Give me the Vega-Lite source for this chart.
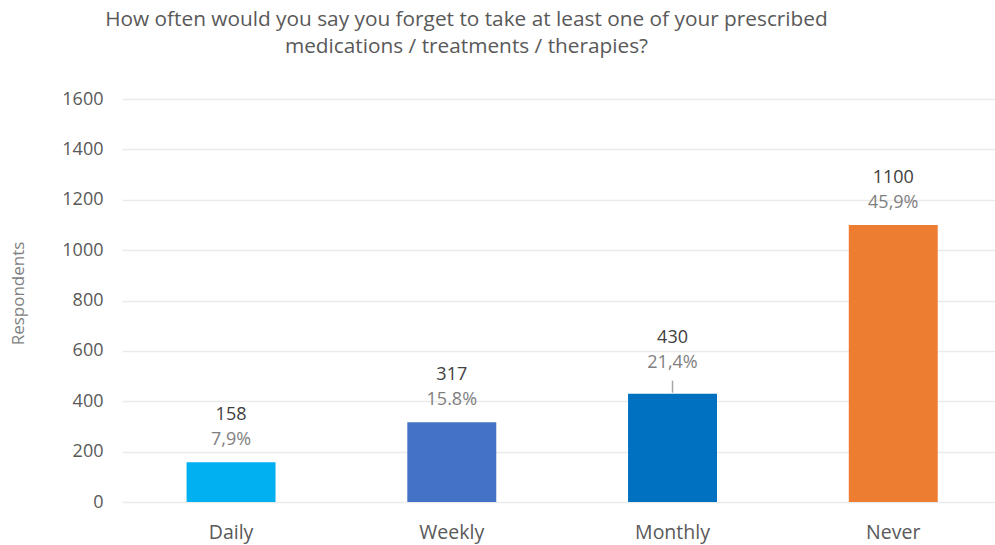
{
  "$schema": "https://vega.github.io/schema/vega-lite/v6.json",
  "autosize": "none",
  "width": 873,
  "height": 403,
  "padding": {"left": 122, "top": 99, "right": 0, "bottom": 43},
  "background": "white",
  "config": {
    "view": {"stroke": null},
    "font": "Open Sans"
  },
  "title": {
    "text": ["How often would you say you forget to take at least one of your prescribed", "medications / treatments / therapies?"],
    "anchor": "middle",
    "dx": -92,
    "offset": 32,
    "fontSize": 20.8,
    "fontWeight": "normal",
    "color": "#595959",
    "lineHeight": 27,
    "font": "Open Sans"
  },
  "data": {
    "values": [
      {"cat": "Daily", "count": 158, "pct": "7,9%"},
      {"cat": "Weekly", "count": 317, "pct": "15.8%"},
      {"cat": "Monthly", "count": 430, "pct": "21,4%"},
      {"cat": "Never", "count": 1100, "pct": "45,9%"}
    ]
  },
  "encoding": {
    "x": {
      "field": "cat",
      "type": "nominal",
      "sort": ["Daily", "Weekly", "Monthly", "Never"],
      "scale": {"paddingInner": 0.597, "paddingOuter": 0.276, "align": 0.53},
      "axis": {
        "title": null,
        "labelAngle": 0,
        "domain": false,
        "ticks": false,
        "labelFontSize": 19.5,
        "labelColor": "#595959",
        "labelPadding": 21,
        "labelFont": "Open Sans"
      }
    },
    "y": {
      "field": "count",
      "type": "quantitative",
      "scale": {"domain": [0, 1600], "nice": false},
      "axis": {
        "values": [0, 200, 400, 600, 800, 1000, 1200, 1400, 1600],
        "format": "d",
        "title": "Respondents",
        "titleFontSize": 17,
        "titleFontWeight": "normal",
        "titleColor": "#7F7F7F",
        "titleFont": "Open Sans",
        "titleX": -104,
        "titleY": 194,
        "titleAngle": -90,
        "titleAlign": "center",
        "titleBaseline": "middle",
        "domain": false,
        "ticks": false,
        "labelFontSize": 18,
        "labelColor": "#595959",
        "labelPadding": 19,
        "labelFont": "Open Sans",
        "gridColor": "#EBEBEB",
        "gridWidth": 1.5
      }
    }
  },
  "layer": [
    {
      "mark": {"type": "bar"},
      "encoding": {
        "color": {
          "field": "cat",
          "type": "nominal",
          "scale": {"domain": ["Daily", "Weekly", "Monthly", "Never"], "range": ["#00B0F0", "#4472C4", "#0070C0", "#ED7D31"]},
          "legend": null
        }
      }
    },
    {
      "transform": [{"filter": "datum.cat !== 'Monthly'"}],
      "mark": {"type": "text", "dy": -47, "baseline": "middle", "fontSize": 18, "color": "#404040", "font": "Open Sans"},
      "encoding": {"text": {"field": "count", "type": "quantitative"}}
    },
    {
      "transform": [{"filter": "datum.cat !== 'Monthly'"}],
      "mark": {"type": "text", "dy": -22, "baseline": "middle", "fontSize": 18, "color": "#7F7F7F", "font": "Open Sans"},
      "encoding": {"text": {"field": "pct", "type": "nominal"}}
    },
    {
      "transform": [{"filter": "datum.cat === 'Monthly'"}],
      "mark": {"type": "text", "dy": -56, "baseline": "middle", "fontSize": 18, "color": "#404040", "font": "Open Sans"},
      "encoding": {"text": {"field": "count", "type": "quantitative"}}
    },
    {
      "transform": [{"filter": "datum.cat === 'Monthly'"}],
      "mark": {"type": "text", "dy": -31, "baseline": "middle", "fontSize": 18, "color": "#7F7F7F", "font": "Open Sans"},
      "encoding": {"text": {"field": "pct", "type": "nominal"}}
    },
    {
      "transform": [{"filter": "datum.cat === 'Monthly'"}],
      "mark": {"type": "rule", "color": "#A6A6A6", "strokeWidth": 1.5, "yOffset": -1, "y2Offset": -13},
      "encoding": {"y2": {"field": "count"}}
    }
  ]
}
